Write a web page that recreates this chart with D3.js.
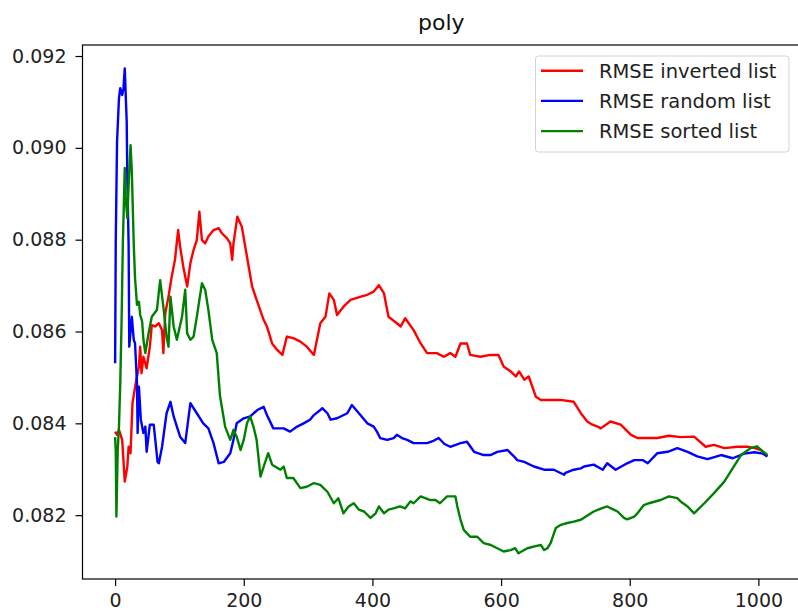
<!DOCTYPE html>
<html>
<head>
<meta charset="utf-8">
<script src="https://cdn.jsdelivr.net/npm/d3@7"></script>
<style>
  html, body { margin: 0; padding: 0; background: #fff; }
  svg { display: block; font-family: "DejaVu Sans", sans-serif; }
</style>
</head>
<body>
<svg id="chart" width="798" height="612"></svg>
<script>
// Running RMSE for three insertion orders of the "poly" model.
const seriesNames = ["RMSE inverted list", "RMSE random list", "RMSE sorted list"];
const seriesColors = ["#ff0000", "#0000ff", "#008000"];

const invertedList = [[0,.08382],[3,.08375],[6,.08386],[11,.08364],[15,.08273],[19,.08306],[21,.08349],[24,.08335],[27,.08444],[32,.08487],[37,.08524],[39,.08567],[41,.08509],[44,.08545],[49,.0852],[54,.08567],[57,.08614],[62,.08611],[68,.08618],[73,.08603],[75,.08553],[78,.0864],[83,.08676],[88,.0872],[93,.08756],[98,.08821],[101,.08785],[106,.08741],[112,.08698],[117,.08749],[122,.08778],[127,.08799],[131,.08861],[135,.08799],[140,.08792],[145,.08807],[153,.08821],[161,.08825],[166,.08814],[174,.08803],[179,.08792],[182,.08756],[184,.08792],[190,.0885],[197,.08828],[205,.08763],[213,.08698],[220,.08669],[231,.08625],[236,.08611],[244,.08574],[252,.0856],[260,.08549],[267,.08589],[278,.08585],[288,.08578],[298,.08567],[309,.08549],[319,.08618],[327,.08632],[333,.08683],[340,.08669],[345,.08636],[355,.08654],[366,.08669],[382,.08676],[392,.0868],[402,.08687],[410,.08701],[418,.08683],[425,.08632],[438,.08618],[444,.08611],[451,.08629],[464,.08603],[475,.08574],[485,.08553],[500,.08553],[511,.08545],[521,.08553],[529,.08545],[537,.08574],[547,.08574],[552,.08549],[568,.08545],[583,.08549],[596,.08549],[604,.08524],[615,.08513],[623,.08502],[628,.08513],[636,.08495],[643,.08502],[654,.08458],[662,.08451],[677,.08451],[692,.08451],[713,.08447],[724,.08422],[734,.08404],[742,.08397],[750,.08393],[755,.08389],[770,.08404],[786,.08397],[802,.08375],[812,.08368],[828,.08368],[843,.08368],[861,.08373],[879,.0837],[900,.08371],[918,.08349],[931,.08353],[947,.08346],[968,.08349],[983,.08349],[994,.08346],[1004,.08342],[1014,.08328]];

const randomList = [[0,.08531],[1,.08796],[3,.09013],[6,.09108],[8,.0913],[11,.09115],[13,.0913],[15,.09173],[18,.09058],[19,.08935],[21,.08789],[22,.08567],[26,.08632],[29,.08582],[31,.08574],[34,.08487],[35,.08379],[37,.0848],[40,.08408],[44,.08379],[47,.08393],[49,.08338],[54,.08397],[60,.08397],[66,.08316],[68,.08313],[73,.08349],[80,.08422],[86,.08447],[91,.08415],[101,.08371],[109,.08357],[117,.08444],[127,.08422],[137,.084],[145,.08389],[153,.08357],[161,.08313],[169,.08316],[179,.08335],[184,.08364],[189,.084],[200,.08411],[210,.08415],[221,.08429],[231,.08436],[236,.08418],[246,.08389],[262,.08389],[272,.08382],[283,.08393],[293,.084],[303,.08408],[309,.08418],[319,.08429],[322,.08433],[330,.08422],[335,.08408],[345,.08411],[361,.08422],[368,.0844],[379,.08422],[392,.084],[402,.08393],[407,.08382],[412,.08368],[423,.08364],[433,.08368],[438,.08375],[446,.08368],[454,.08364],[464,.08357],[475,.08357],[485,.08357],[495,.08362],[503,.08368],[512,.08355],[521,.08349],[537,.08357],[547,.0836],[558,.08338],[573,.08331],[584,.08331],[594,.08338],[610,.08342],[620,.08328],[625,.0832],[636,.08316],[651,.08306],[667,.08299],[682,.08299],[698,.08288],[700,.08292],[713,.08299],[724,.08302],[729,.08306],[744,.0831],[758,.08299],[765,.08313],[778,.08299],[796,.08313],[807,.0832],[820,.0832],[828,.08313],[843,.08335],[859,.08338],[874,.08346],[890,.08338],[905,.08328],[921,.08322],[942,.08331],[960,.08324],[978,.08334],[994,.08337],[1007,.08334],[1014,.08328]];

const sortedList = [[0,.0837],[1,.0834],[2,.08197],[4,.0834],[6,.08393],[8,.08487],[10,.0862],[12,.0879],[15,.08956],[16,.08897],[19,.08847],[21,.08919],[24,.09006],[26,.08948],[29,.08789],[31,.08716],[34,.08658],[37,.08665],[39,.08636],[42,.08622],[44,.08582],[47,.08553],[52,.08596],[57,.08632],[65,.08647],[70,.08712],[75,.08654],[80,.08589],[83,.08567],[86,.08676],[91,.08611],[96,.08582],[104,.08632],[109,.08691],[112,.08596],[117,.08582],[122,.08589],[127,.08632],[131,.08669],[135,.08705],[140,.08691],[145,.08647],[151,.08582],[158,.08553],[163,.0846],[171,.08393],[179,.08364],[184,.08386],[189,.08371],[195,.08342],[200,.08364],[205,.084],[210,.08415],[215,.08393],[220,.08364],[226,.08284],[231,.08306],[238,.08335],[244,.0831],[257,.08299],[262,.08306],[267,.08281],[277,.08281],[288,.08259],[298,.08262],[309,.0827],[319,.08266],[330,.08251],[340,.08226],[347,.08237],[355,.08204],[363,.08219],[371,.08226],[379,.08212],[387,.08208],[397,.08194],[405,.08204],[410,.08219],[418,.08204],[425,.08212],[433,.08215],[443,.08219],[451,.08215],[459,.0823],[464,.08226],[475,.08241],[490,.08233],[498,.08233],[505,.08226],[516,.08241],[529,.08241],[532,.08219],[537,.0819],[542,.08168],[552,.08153],[563,.08153],[573,.08139],[584,.08135],[594,.08128],[604,.08121],[615,.08124],[622,.08128],[627,.08117],[636,.08124],[641,.08128],[652,.08132],[662,.08135],[667,.08124],[672,.08128],[677,.08139],[685,.08172],[693,.08179],[703,.08183],[713,.08186],[724,.0819],[744,.08208],[756,.08215],[765,.08219],[775,.08212],[781,.08208],[791,.08194],[796,.08191],[807,.08197],[812,.08204],[822,.08222],[830,.08226],[848,.08233],[861,.08241],[874,.08237],[879,.0823],[890,.08219],[900,.08204],[916,.08226],[931,.08248],[947,.08273],[960,.08302],[973,.08331],[988,.08346],[998,.0835],[1004,.08342],[1014,.08331]];

const xTicks = [0, 200, 400, 600, 800, 1000];
const yTicks = [0.082, 0.084, 0.086, 0.088, 0.090, 0.092];
const titleText = "poly";

const series = [invertedList, randomList, sortedList];

// Plot frame
const frame = { left: 82.5, right: 800, top: 45, bottom: 579 };
const xPad = 50.7;
const x = d3.scaleLinear().domain([0 - xPad, 1014 + xPad]).range([frame.left, frame.right]);
const y = d3.scaleLinear().domain([0.08061, 0.09224]).range([frame.bottom, frame.top]);

const svg = d3.select("#chart");
svg.append("rect").attr("width", 798).attr("height", 612).attr("fill", "#fff");

// Lines
const line = d3.line().x(d => x(d[0])).y(d => y(d[1]));
const plot = svg.append("g");
series.forEach((data, i) => {
  plot.append("path")
    .datum(data)
    .attr("d", line)
    .attr("fill", "none")
    .attr("stroke", seriesColors[i])
    .attr("stroke-width", 2.4)
    .attr("stroke-linejoin", "round");
});

// Spines
svg.append("rect")
  .attr("x", frame.left).attr("y", frame.top)
  .attr("width", frame.right - frame.left).attr("height", frame.bottom - frame.top)
  .attr("fill", "none").attr("stroke", "#000").attr("stroke-width", 1.2);

// Axes
const fontSize = 19;
const xAxis = d3.axisBottom(x).tickValues(xTicks).tickFormat(d3.format("d")).tickSizeOuter(0).tickSize(7).tickPadding(8);
const gx = svg.append("g").attr("transform", `translate(0,${frame.bottom})`).call(xAxis);
const yAxis = d3.axisLeft(y).tickValues(yTicks).tickFormat(d3.format(".3f")).tickSizeOuter(0).tickSize(7).tickPadding(9);
const gy = svg.append("g").attr("transform", `translate(${frame.left},0)`).call(yAxis);
[gx, gy].forEach(g => {
  g.select(".domain").remove();
  g.selectAll(".tick line").attr("stroke", "#000").attr("stroke-width", 1.2);
  g.selectAll(".tick text")
    .attr("fill", "#222")
    .style("font-family", "'DejaVu Sans', sans-serif")
    .style("font-size", fontSize + "px");
});

// Title
svg.append("text")
  .attr("x", (frame.left + frame.right) / 2).attr("y", 30)
  .attr("text-anchor", "middle")
  .style("font-size", "22px")
  .attr("fill", "#111")
  .text(titleText);

// Legend
const legend = svg.append("g");
legend.append("rect")
  .attr("x", 535.5).attr("y", 56).attr("width", 253.5).attr("height", 96)
  .attr("rx", 3).attr("ry", 3)
  .attr("fill", "#fff").attr("fill-opacity", 0.8)
  .attr("stroke", "#d4d4d4").attr("stroke-width", 1);
seriesNames.forEach((name, i) => {
  const ly = 70.7 + i * 30.2;
  legend.append("line")
    .attr("x1", 541).attr("x2", 583)
    .attr("y1", ly).attr("y2", ly)
    .attr("stroke", seriesColors[i]).attr("stroke-width", 2.4);
  legend.append("text")
    .attr("x", 599).attr("y", ly + 7)
    .style("font-size", "19.5px")
    .attr("fill", "#222")
    .text(name);
});
</script>
</body>
</html>
